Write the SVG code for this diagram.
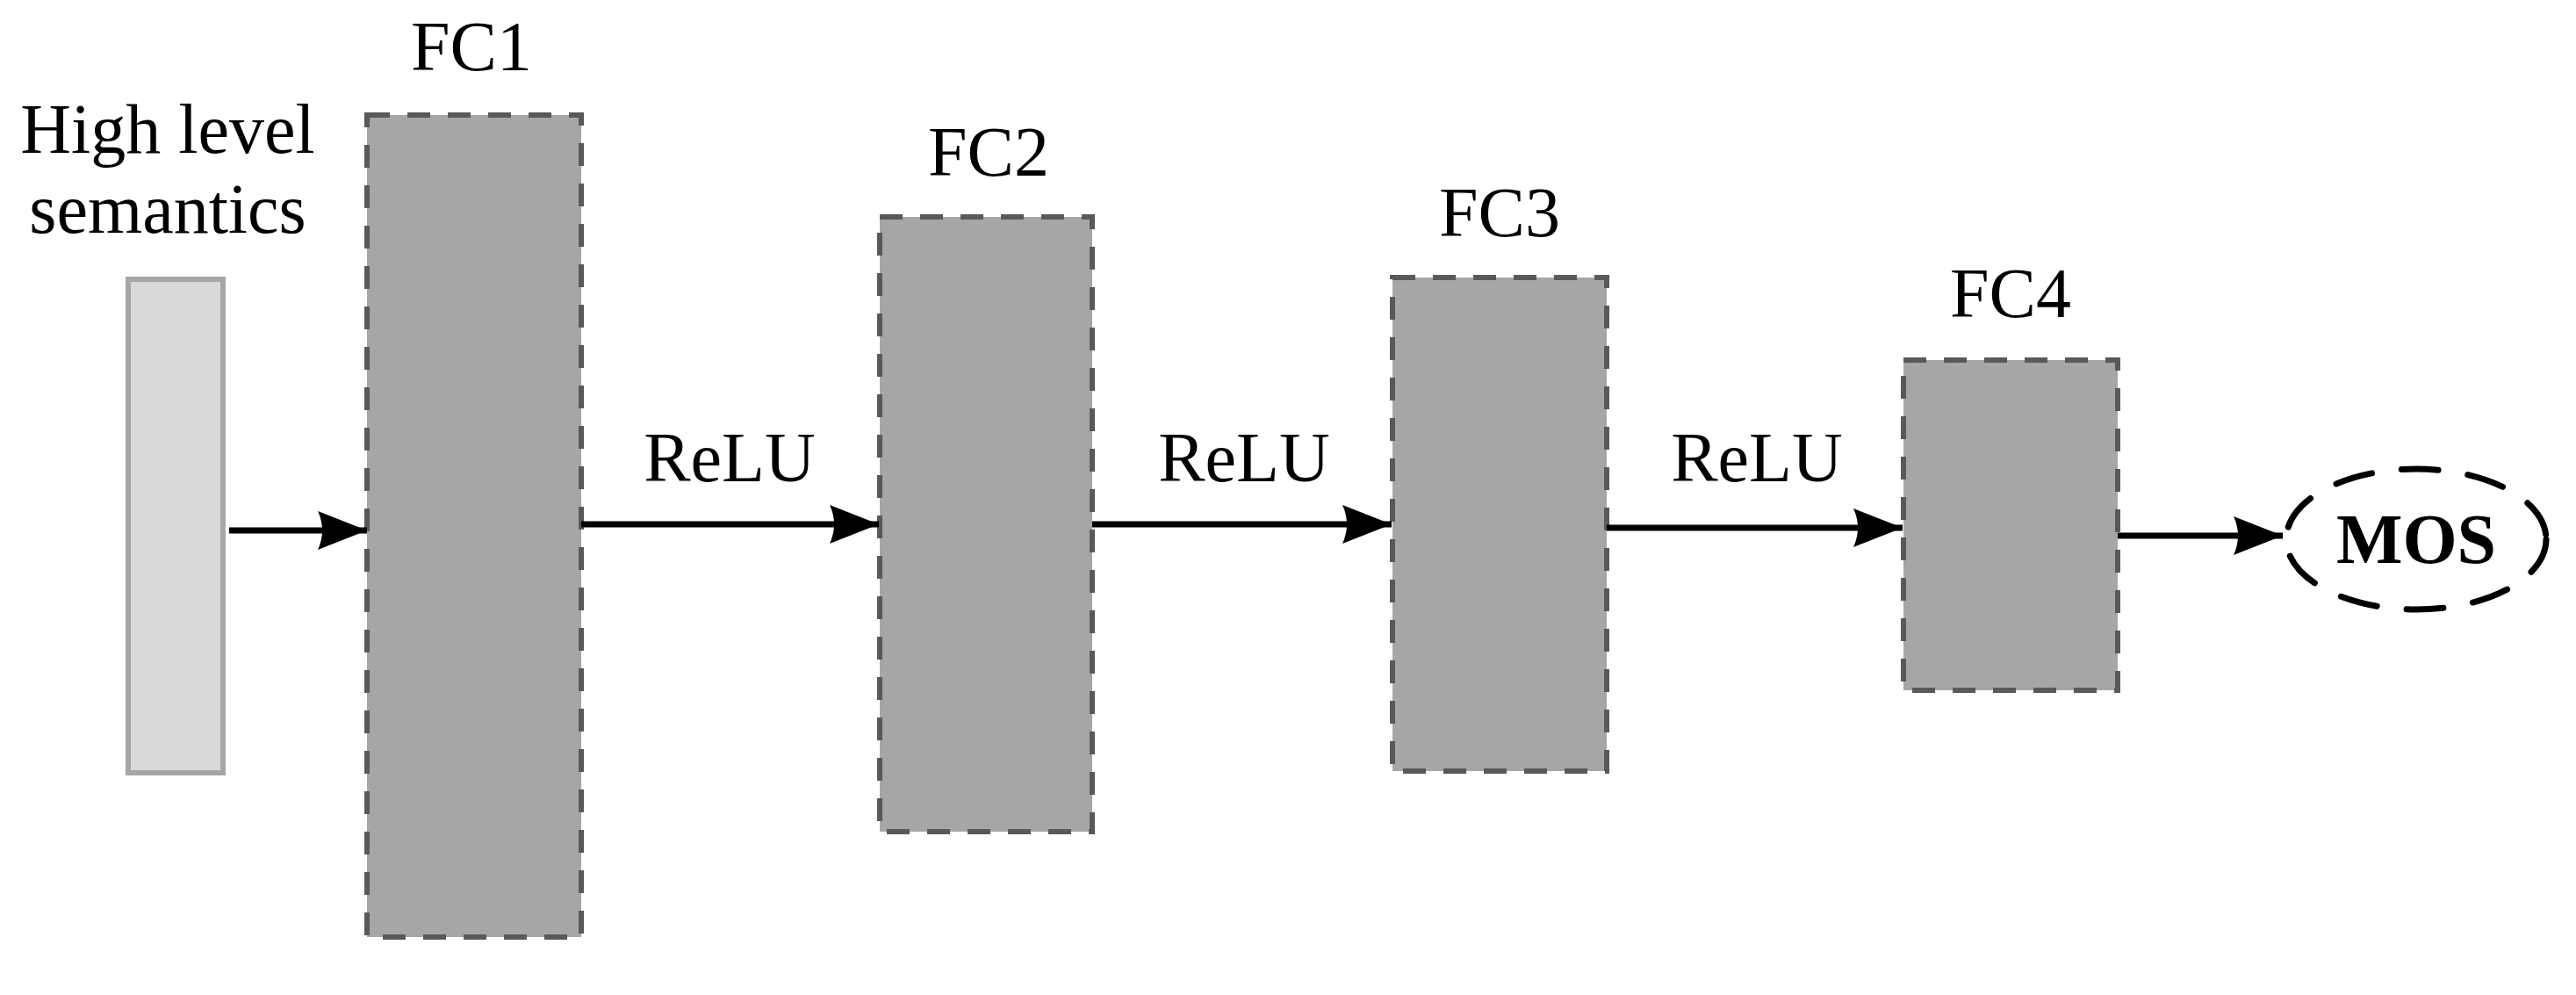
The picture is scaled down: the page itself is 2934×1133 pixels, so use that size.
<svg xmlns="http://www.w3.org/2000/svg" width="2934" height="1133" viewBox="0 0 2934 1133">
<style>
text{font-family:"Liberation Serif","Times New Roman",serif;font-size:80px;fill:#000;text-anchor:middle}
.fc{fill:#a6a6a6;stroke:#595959;stroke-width:6;stroke-dasharray:26 20}
.in{fill:#d9d9d9;stroke:#a6a6a6;stroke-width:6}
.ar{stroke:#000;stroke-width:7;fill:none;marker-end:url(#ah)}
</style>
<defs>
<marker id="ah" markerUnits="userSpaceOnUse" markerWidth="60" markerHeight="50" refX="56" refY="22" orient="auto">
<path d="M0,0 L56,22 L0,44 Q10,22 0,0 Z" fill="#000"/>
</marker>
</defs>
<rect width="2934" height="1133" fill="#fff"/>
<g id="input"><rect class="in" x="146" y="318" width="108" height="562"/>
<text x="191" y="174">High level</text><text x="191" y="265">semantics</text></g>
<g id="fc1"><rect class="fc" x="418" y="131" width="244" height="936"/><text x="537" y="80">FC1</text></g>
<g id="fc2"><rect class="fc" x="1002" y="247" width="242" height="700"/><text x="1126" y="200">FC2</text></g>
<g id="fc3"><rect class="fc" x="1586" y="316" width="244" height="562"/><text x="1708" y="269">FC3</text></g>
<g id="fc4"><rect class="fc" x="2168" y="410" width="244" height="376"/><text x="2290" y="361">FC4</text></g>
<g id="mos"><ellipse cx="2752" cy="614" rx="148" ry="80" fill="none" stroke="#000" stroke-width="7" stroke-dasharray="42 34" stroke-linecap="round"/>
<text x="2752" y="641" font-weight="bold">MOS</text></g>
<g id="connectors">
<path class="ar" d="M261,604 H418"/>
<path class="ar" d="M662,597 H1001"/>
<path class="ar" d="M1244,597 H1585"/>
<path class="ar" d="M1830,601 H2167"/>
<path class="ar" d="M2412,610 H2600"/>
<text x="831" y="548">ReLU</text>
<text x="1417" y="548">ReLU</text>
<text x="2001" y="548">ReLU</text>
</g>
</svg>
